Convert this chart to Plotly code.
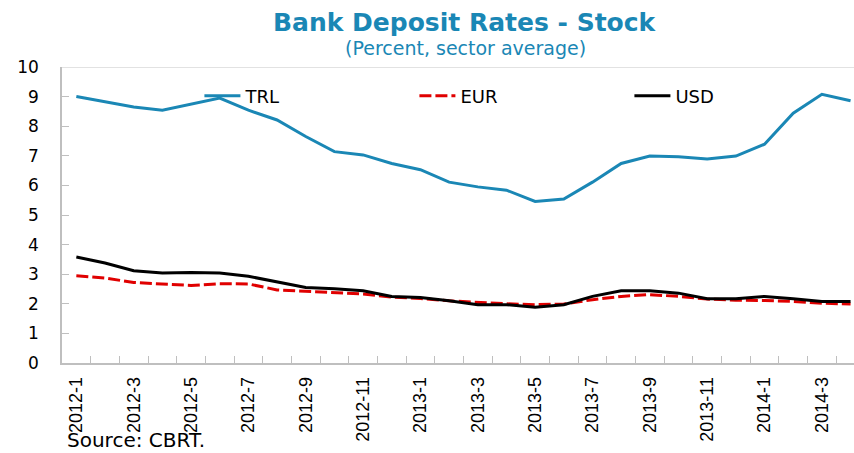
import plotly.graph_objects as go

# Monthly periods, Jan 2012 - Apr 2014
months = [
    "2012-1", "2012-2", "2012-3", "2012-4", "2012-5", "2012-6", "2012-7",
    "2012-8", "2012-9", "2012-10", "2012-11", "2012-12",
    "2013-1", "2013-2", "2013-3", "2013-4", "2013-5", "2013-6", "2013-7",
    "2013-8", "2013-9", "2013-10", "2013-11", "2013-12",
    "2014-1", "2014-2", "2014-3", "2014-4",
]

# Deposit rates (percent, sector average)
trl = [9.00, 8.82, 8.65, 8.54, 8.75, 8.95, 8.54, 8.21, 7.65, 7.14, 7.03, 6.74,
       6.53, 6.11, 5.95, 5.84, 5.46, 5.54, 6.11, 6.74, 6.99, 6.97, 6.89, 6.99,
       7.39, 8.44, 9.08, 8.86]
eur = [2.95, 2.87, 2.72, 2.67, 2.62, 2.68, 2.67, 2.47, 2.42, 2.36, 2.33, 2.23,
       2.18, 2.10, 2.04, 2.00, 1.97, 1.99, 2.14, 2.25, 2.31, 2.25, 2.16, 2.12,
       2.11, 2.08, 2.02, 1.99]
usd = [3.58, 3.38, 3.12, 3.04, 3.06, 3.04, 2.93, 2.73, 2.55, 2.51, 2.44, 2.25,
       2.21, 2.10, 1.97, 1.97, 1.88, 1.97, 2.25, 2.44, 2.44, 2.36, 2.17, 2.17,
       2.25, 2.17, 2.08, 2.08]

# Label every other month on the x axis
tick_text = [m if i % 2 == 0 else "" for i, m in enumerate(months)]

BLUE = "#1a87b5"
AXIS = "#bfbfbf"
FONT = "DejaVu Sans, Verdana, sans-serif"

fig = go.Figure()
fig.add_trace(go.Scatter(x=months, y=trl, name="TRL", mode="lines",
                         line=dict(color=BLUE, width=3)))
fig.add_trace(go.Scatter(x=months, y=eur, name="EUR", mode="lines",
                         line=dict(color="#e00000", width=3, dash="12px,4px")))
fig.add_trace(go.Scatter(x=months, y=usd, name="USD", mode="lines",
                         line=dict(color="#000000", width=3)))

fig.update_layout(
    width=854, height=453,
    margin=dict(l=62, r=0, t=67, b=90, autoexpand=False),
    paper_bgcolor="white", plot_bgcolor="white",
    showlegend=True,
    legend=dict(orientation="h", x=0.1735, xanchor="left", y=(363 - 96) / 296, yanchor="middle",
                font=dict(family=FONT, size=18, color="#000000"),
                entrywidth=164, entrywidthmode="pixels",
                bgcolor="rgba(0,0,0,0)", itemwidth=36,
                traceorder="normal"),
    font=dict(family=FONT, color="#000000"),
)

fig.update_xaxes(
    type="category", categoryorder="array", categoryarray=months,
    range=[-0.5, 27.12], automargin=False,
    tickmode="array", tickvals=months, ticktext=tick_text,
    tickson="boundaries", ticks="inside", ticklen=7, tickcolor=AXIS, tickwidth=1,
    tickangle=-90, ticklabelstandoff=5,
    tickfont=dict(family="Liberation Sans Narrow, Arial Narrow, sans-serif", size=18, color="#000000"),
    showline=True, linecolor=AXIS, linewidth=1.5,
    showgrid=False, zeroline=False,
)
fig.update_yaxes(
    range=[0, 10], dtick=1, tick0=0, automargin=False,
    ticks="inside", ticklen=7, tickcolor=AXIS, tickwidth=1,
    tickfont=dict(family=FONT, size=17, color="#000000"),
    ticklabelstandoff=18,
    showline=True, linecolor=AXIS, linewidth=1.5,
    showgrid=False, zeroline=False,
)

# Top border of the plot area
fig.add_shape(type="line", xref="paper", yref="y", x0=0, x1=1, y0=10, y1=10,
              line=dict(color="#d9d9d9", width=1.5))

fig.add_annotation(text="<b>Bank Deposit Rates - Stock</b>", xref="paper", yref="paper",
                   x=(465 - 62) / 792, y=1 + (67 - 23) / 296, xanchor="center", yanchor="middle",
                   showarrow=False, font=dict(family=FONT, size=25, color=BLUE))
fig.add_annotation(text="(Percent, sector average)", xref="paper", yref="paper",
                   x=(466 - 62) / 792, y=1 + (67 - 48) / 296, xanchor="center", yanchor="middle",
                   showarrow=False, font=dict(family=FONT, size=19, color=BLUE))
fig.add_annotation(text="Source: CBRT.", xref="paper", yref="paper",
                   x=(65 - 62) / 792, y=-(440 - 363) / 296, xanchor="left", yanchor="middle",
                   showarrow=False, font=dict(family=FONT, size=20, color="#000000"))

fig.write_html("out.html")
